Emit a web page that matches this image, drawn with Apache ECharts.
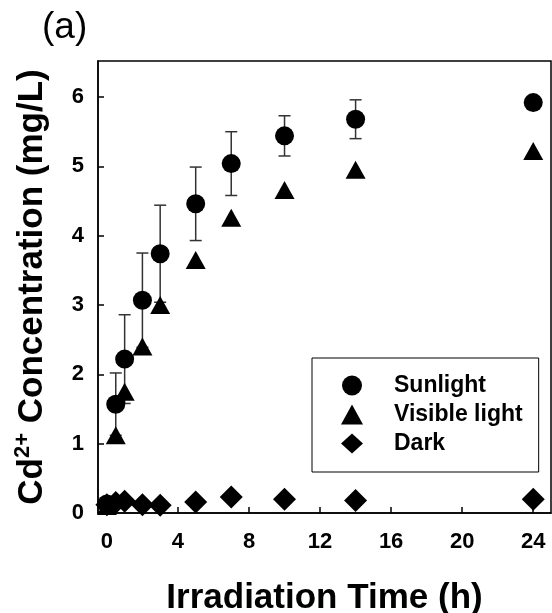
<!DOCTYPE html>
<html>
<head>
<meta charset="utf-8">
<script src="https://cdn.jsdelivr.net/npm/echarts@6/dist/echarts.min.js"></script>
<style>
  html, body { margin: 0; padding: 0; background: #fff; }
  #chart { width: 552px; height: 613px; }
</style>
</head>
<body>
<div id="chart"></div>
<script>
// irradiation time (h)
const times = [0, 0.5, 1, 2, 3, 5, 7, 10, 14, 24];
// Cd2+ concentration (mg/L)
const sunlight = [0.13, 1.57, 2.22, 3.07, 3.74, 4.46, 5.04, 5.44, 5.68, 5.92];
const sunlightErr = [0.05, 0.45, 0.64, 0.68, 0.70, 0.53, 0.46, 0.29, 0.28, 0.06];
const visible = [0.10, 1.12, 1.75, 2.40, 3.00, 3.65, 4.26, 4.66, 4.95, 5.22];
const dark = [0.12, 0.15, 0.17, 0.12, 0.11, 0.16, 0.23, 0.20, 0.18, 0.20];
const xTicks = [0, 4, 8, 12, 16, 20, 24];
const yTicks = [0, 1, 2, 3, 4, 5, 6];

const font = "'Liberation Sans', Arial, sans-serif";
const chart = echarts.init(document.getElementById('chart'));

const pairs = arr => times.map((t, i) => [t, arr[i]]);
const errData = times.map((t, i) => [t, sunlight[i] - sunlightErr[i], sunlight[i] + sunlightErr[i]]);

function renderErr(params, api) {
  const x = api.value(0);
  const top = api.coord([x, api.value(2)]);
  const bot = api.coord([x, api.value(1)]);
  const half = 6;
  const style = { stroke: '#333', lineWidth: 1.5 };
  return {
    type: 'group',
    children: [
      { type: 'line', shape: { x1: top[0], y1: top[1], x2: bot[0], y2: bot[1] }, style: style },
      { type: 'line', shape: { x1: top[0] - half, y1: top[1], x2: top[0] + half, y2: top[1] }, style: style },
      { type: 'line', shape: { x1: bot[0] - half, y1: bot[1], x2: bot[0] + half, y2: bot[1] }, style: style }
    ]
  };
}

const option = {
  animation: false,
  grid: {
    left: 98, top: 61, right: 1, bottom: 100,
    outerBoundsMode: 'none',
    show: true, borderColor: '#000', borderWidth: 1.5
  },
  graphic: [{
    type: 'text', left: 42, top: 9,
    style: { text: '(a)', font: '37px ' + font, fill: '#000' }
  }],
  legend: {
    orient: 'vertical',
    left: 312, top: 358,
    padding: [16, 16, 17, 29],
    itemWidth: 22, itemHeight: 20, itemGap: 6,
    borderColor: '#000', borderWidth: 1,
    selectedMode: false,
    data: ['Sunlight', 'Visible light', 'Dark'],
    textStyle: {
      fontFamily: font, fontSize: 23, fontWeight: 'bold', color: '#000',
      padding: [0, 0, 0, 26]
    }
  },
  xAxis: {
    type: 'value', min: -0.5, max: 25,
    name: 'Irradiation Time (h)',
    nameLocation: 'middle', nameGap: 68,
    nameTextStyle: { fontFamily: font, fontSize: 35, fontWeight: 'bold', color: '#000' },
    splitLine: { show: false },
    axisLine: { onZero: false, lineStyle: { color: '#000', width: 1.5 } },
    axisTick: { inside: true, length: 6, lineStyle: { color: '#000', width: 1.5 }, customValues: xTicks },
    axisLabel: { margin: 18, fontFamily: font, fontSize: 22, fontWeight: 'bold', color: '#000', customValues: xTicks }
  },
  yAxis: {
    type: 'value', min: 0, max: 6.52,
    name: '{a|Cd}{s|2+}{a| Concentration (mg/L)}',
    nameLocation: 'middle', nameGap: 46, nameRotate: 90,
    nameTextStyle: {
      color: '#000',
      rich: {
        a: { fontFamily: font, fontSize: 35, fontWeight: 'bold', color: '#000', lineHeight: 40 },
        s: { fontFamily: font, fontSize: 22, fontWeight: 'bold', color: '#000', verticalAlign: 'top', lineHeight: 22 }
      }
    },
    splitLine: { show: false },
    axisLine: { onZero: false, lineStyle: { color: '#000', width: 1.5 } },
    axisTick: { inside: true, length: 6, lineStyle: { color: '#000', width: 1.5 }, customValues: yTicks },
    axisLabel: { margin: 14, fontFamily: font, fontSize: 22, fontWeight: 'bold', color: '#000', customValues: yTicks }
  },
  series: [
    {
      name: 'err', type: 'custom', renderItem: renderErr, data: errData,
      encode: { x: 0, y: [1, 2] }, z: 1, silent: true
    },
    {
      name: 'Sunlight', type: 'scatter', data: pairs(sunlight),
      symbol: 'circle', symbolSize: 19, itemStyle: { color: '#000', opacity: 1 }, z: 2
    },
    {
      name: 'Visible light', type: 'scatter', data: pairs(visible),
      symbol: 'triangle', symbolSize: [20, 18], itemStyle: { color: '#000', opacity: 1 }, z: 3
    },
    {
      name: 'Dark', type: 'scatter', data: pairs(dark),
      symbol: 'diamond', symbolSize: [23, 23], itemStyle: { color: '#000', opacity: 1 }, z: 3
    }
  ]
};

chart.setOption(option);
</script>
</body>
</html>
